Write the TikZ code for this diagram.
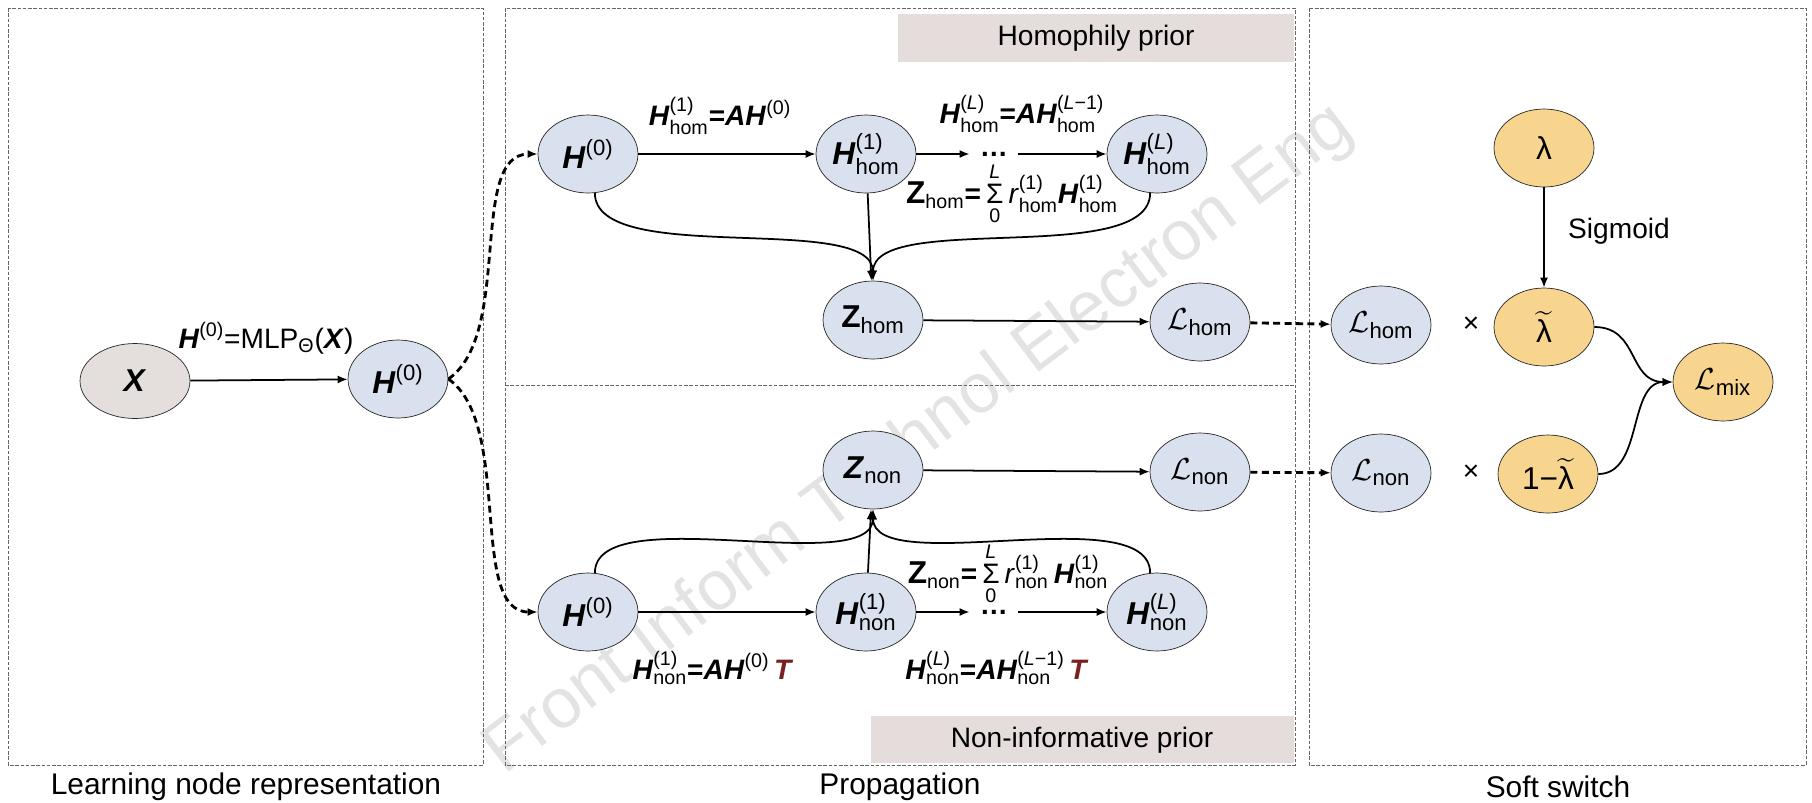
\documentclass[tikz,border=0pt]{standalone}
\usepackage{amsmath}
\usepackage{fontspec}
\setmainfont{Liberation Sans}
\usetikzlibrary{positioning,shapes.geometric,arrows.meta}

\definecolor{nodeblue}{HTML}{D9E1EE}
\definecolor{nodegray}{HTML}{E4DEDC}
\definecolor{nodeorange}{HTML}{F8D58F}
\definecolor{priorbox}{HTML}{E4DDDB}
\definecolor{tred}{HTML}{7A2020}

\newcommand{\bv}[1]{\textbf{\textit{#1}}}
\newcommand{\hsup}[2]{\ensuremath{\text{\bv{#1}}^{\text{#2}}}}
\newcommand{\hsub}[3]{\ensuremath{\text{\bv{#1}}^{\text{#2}}_{\text{#3}}}}
\newcommand{\zsum}[2]{\ensuremath{\text{\fontsize{18}{18}\selectfont\textbf{Z}}_{\text{#1}}\text{\textbf{=}}\mathop{\text{\fontsize{16}{16}\selectfont Σ}}\limits_{\text{0}}^{\text{\textit{L}}}\text{\textit{r}}^{\text{(1)}}_{\text{#1}}#2\text{\bv{H}}^{\text{(1)}}_{\text{#1}}}}

\begin{document}
\begin{tikzpicture}[x=0.02cm, y=-0.02cm,
    every node/.style={font=\fontsize{16}{19}\selectfont},
    var/.style={ellipse, draw=black!85, fill=nodeblue, minimum width=2cm, minimum height=1.56cm, inner sep=0pt, font=\fontsize{18}{21}\selectfont},
    inp/.style={var, fill=nodegray, minimum width=2.2cm, minimum height=1.5cm},
    sw/.style={var, fill=nodeorange},
    frame/.style={draw=black!60, line width=0.5pt, dash pattern=on 2pt off 1pt},
    arr/.style={->, line width=1pt},
    darr/.style={->, line width=1.6pt, dash pattern=on 4pt off 2.5pt},
    >={Latex[length=2mm,width=1.6mm]}]

    \useasboundingbox (0,0) rectangle (1812,802);

    % watermark
    \node[rotate=37, text=black!11, font=\fontsize{40}{48}\selectfont] (wm) at (919,440) {Front Inform Technol Electron Eng};

    % prior boxes
    \fill[priorbox] (898,14) rectangle (1294,62);
    \fill[priorbox] (871,716) rectangle (1294,763);
    \node (homp) at (1096,38) {Homophily prior};
    \node (nonp) at (1082,740) {Non-informative prior};

    % frames
    \draw[frame] (8,8) rectangle (483,765);
    \draw[frame] (505,8) rectangle (1295,765);
    \draw[frame] (1309,8) rectangle (1806,765);
    \draw[frame] (505,385) -- (1295,385);
    \node[font=\fontsize{17}{20}\selectfont] (lab1) at (246,787) {Learning node representation};
    \node[font=\fontsize{17}{20}\selectfont] (lab2) at (900,787) {Propagation};
    \node[font=\fontsize{17}{20}\selectfont] (lab3) at (1558,787) {Soft switch};

    % learning node representation
    \node[inp] (x) at (135,381) {\bv{X}};
    \node[var] (h0) at (398,379) {\hsup{H}{(0)}};
    \node (eqmlp) at (266,338) {\hsup{H}{(0)}=MLP\textsubscript{Θ}(\bv{X})};

    % homophily branch
    \node[var] (p0) at (588,154) {\hsup{H}{(0)}};
    \node[var] (h1) at (866,154) {\hsub{H}{(1)}{hom}};
    \node[inner xsep=0.2cm] (dh) at (994,154) {\textbf{…}};
    \node[var] (hl) at (1157,154) {\hsub{H}{(\textit{L})}{hom}};
    \node[var] (zh) at (873,320) {\ensuremath{\text{\textbf{Z}}_{\text{hom}}}};
    \node[var] (lh) at (1200,322) {$\mathcal{L}_{\text{hom}}$};
    \node (eqh1) at (720,116) {\hsub{H}{(1)}{hom}\textbf{=}\hsup{AH}{(0)}};
    \node (eqhl) at (1022,114) {\hsub{H}{(\textit{L})}{hom}\textbf{=}\hsub{AH}{(\textit{L}−1)}{hom}};
    \node (eqzh) at (1012,194) {\zsum{hom}{}};

    % non-informative branch
    \node[var] (q0) at (588,612) {\hsup{H}{(0)}};
    \node[var] (n1) at (866,612) {\hsub{H}{(1)}{non}};
    \node[inner xsep=0.2cm] (dn) at (994,612) {\textbf{…}};
    \node[var] (nl) at (1157,612) {\hsub{H}{(\textit{L})}{non}};
    \node[var] (zn) at (873,470) {\ensuremath{\text{\bv{Z}}_{\text{non}}}};
    \node[var] (ln) at (1200,472) {$\mathcal{L}_{\text{non}}$};
    \node (eqn1) at (713,668) {\hsub{H}{(1)}{non}\textbf{=}\hsup{AH}{(0)}\,\textcolor{tred}{\bv{T}}};
    \node (eqnl) at (997,668) {\hsub{H}{(\textit{L})}{non}\textbf{=}\hsub{AH}{(\textit{L}−1)}{non}\,\textcolor{tred}{\bv{T}}};
    \node (eqzn) at (1008,574) {\zsum{non}{\,}};

    % soft switch
    \node[var] (lh2) at (1381,325) {$\mathcal{L}_{\text{hom}}$};
    \node[var] (ln2) at (1381,473) {$\mathcal{L}_{\text{non}}$};
    \node (t1) at (1471,325) {×};
    \node (t2) at (1471,473) {×};
    \node[sw] (lam) at (1544,148) {λ};
    \node[sw] (lamt) at (1544,327) {$\widetilde{\text{λ}}$};
    \node[sw] (lamc) at (1548,474) {1−$\widetilde{\text{λ}}$};
    \node[sw] (lmix) at (1723,382) {$\mathcal{L}_{\text{mix}}$};
    \node[anchor=west] (sig) at (1562,231) {Sigmoid};

    % connectors
    \draw[arr] (x) -- (h0);
    \draw[darr] (h0.east) .. controls +(65,-45) and +(-70,0) .. (p0.west);
    \draw[darr] (h0.east) .. controls +(65,45) and +(-70,0) .. (q0.west);

    \draw[arr] (p0) -- (h1);
    \draw[arr] (h1) -- (dh);
    \draw[arr] (dh) -- (hl);
    \draw[arr] (p0.-80) .. controls +(0,75) and +(0,-70) .. (zh.north);
    \draw[arr] (h1) -- (zh);
    \draw[arr] (hl.-100) .. controls +(0,75) and +(0,-70) .. (zh.north);
    \draw[arr] (zh) -- (lh);
    \draw[darr] (lh) -- (lh2);

    \draw[arr] (q0) -- (n1);
    \draw[arr] (n1) -- (dn);
    \draw[arr] (dn) -- (nl);
    \draw[arr] (q0.80) .. controls +(0,-75) and +(0,70) .. (zn.south);
    \draw[arr] (n1) -- (zn);
    \draw[arr] (nl.100) .. controls +(0,-75) and +(0,70) .. (zn.south);
    \draw[arr] (zn) -- (ln);
    \draw[darr] (ln) -- (ln2);

    \draw[arr] (lam) -- (lamt);
    \draw[arr] (lamt.east) .. controls +(45,0) and +(-45,0) .. (lmix.west);
    \draw[arr] (lamc.east) .. controls +(45,0) and +(-45,0) .. (lmix.west);
\end{tikzpicture}
\end{document}
